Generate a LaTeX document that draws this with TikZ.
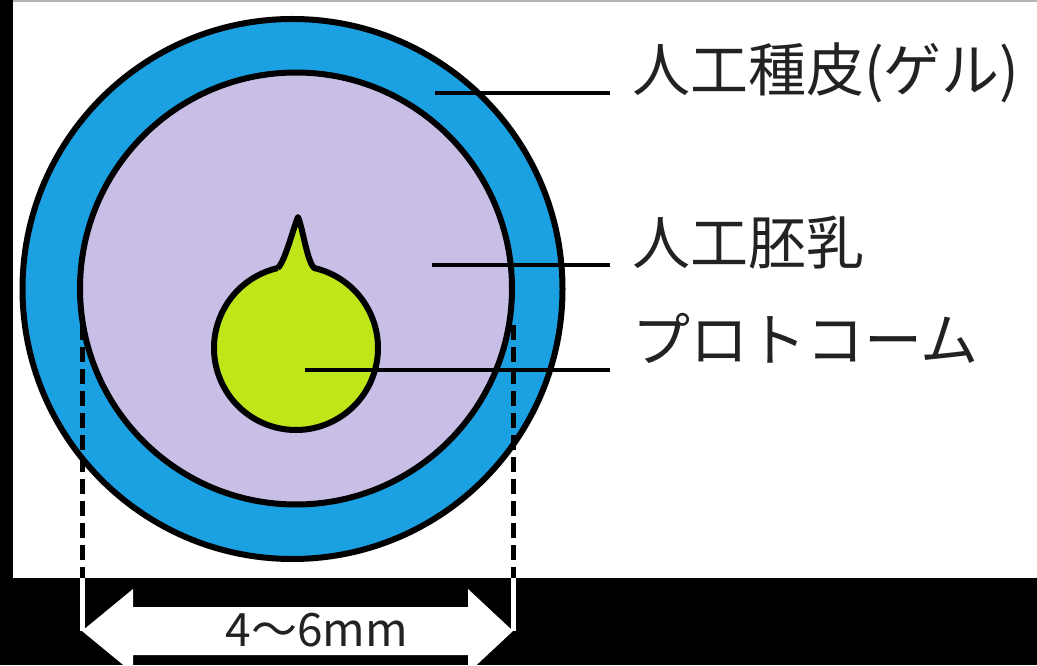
\documentclass[tikz,border=0pt]{standalone}
\usepackage{fontspec}
\newfontfamily\jpfont{Noto Sans CJK JP}
\usetikzlibrary{calc}
\definecolor{gelblue}{RGB}{27,160,226}
\definecolor{endolav}{RGB}{200,190,230}
\definecolor{protogreen}{RGB}{190,230,25}
\definecolor{inktext}{RGB}{34,34,34}
\begin{document}
\begin{tikzpicture}[x=1pt,y=1pt,
  ring/.style={circle, inner sep=0pt, outer sep=0pt, draw=black, line width=6pt},
  leader/.style={line width=3.5pt, black},
  partlabel/.style={font=\jpfont\fontsize{58}{62}\selectfont, anchor=west, inner sep=0pt, text=inktext},
  dimline/.style={line width=5pt, dash pattern=on 15pt off 7pt}]

% page: black frame with white drawing panel
\useasboundingbox (0,0) rectangle (1037,665);
\clip (0,0) rectangle (1037,665);
\fill[black] (0,0) rectangle (1037,665);
\fill[white] (13,87) rectangle (1037,665);
\draw[black!30, line width=2pt] (13,664) -- (1037,664);

% artificial seed: gel coat, endosperm, protocorm
\node[ring, fill=gelblue, minimum size=540pt] (gel) at (292.5,376) {};
\node[ring, fill=endolav, minimum size=432pt] (endo) at (296,376.5) {};
\node[circle, inner sep=0pt, outer sep=0pt, fill=protogreen, minimum size=164pt] (proto) at (296,317) {};

% protocorm tip
\coordinate (tip) at (298,448);
\fill[protogreen] (proto.103) .. controls +(7,5) and +(-5,-12) .. (tip)
  .. controls +(5,-12) and +(-7,5) .. (proto.77) -- (proto.center) -- cycle;
\draw[line width=6pt, line join=round]
  (proto.103) .. controls +(7,5) and +(-5,-12) .. (tip)
  .. controls +(5,-12) and +(-7,5) .. (proto.77)
  arc[start angle=77, end angle=-257, radius=82pt];

% labels and leader lines
\node[partlabel] (l1) at (632,592) {人工種皮(ゲル)};
\node[partlabel] (l2) at (632,422) {人工胚乳};
\node[partlabel] (l3) at (632,327) {プロトコーム};
\coordinate (p1) at (435,572);
\coordinate (p2) at (432,400);
\coordinate (p3) at (305,295);
\draw[leader] (p1) -- ([xshift=-22pt]l1.west |- p1);
\draw[leader] (p2) -- ([xshift=-22pt]l2.west |- p2);
\draw[leader] (p3) -- ([xshift=-22pt]l3.west |- p3);

% diameter marks
\coordinate (dlt) at (82,340);
\coordinate (dlb) at (82,87);
\coordinate (dltip) at (82,34);
\coordinate (drt) at (513,340);
\coordinate (drb) at (513,87);
\coordinate (drtip) at (513,34);
\draw[dimline] (dlt) -- (dlb);
\draw[dimline] (drt) -- (drb);
\draw[white, line width=5pt] (dlb) -- (dltip);
\draw[white, line width=5pt] (drb) -- (drtip);

% double block arrow between the marks
\fill[white] (dltip) -- ($(dltip)+(51,42)$) -- ($(dltip)+(51,24)$)
  -- ($(drtip)+(-45,24)$) -- ($(drtip)+(-45,42)$) -- (drtip)
  -- ($(drtip)+(-45,-42)$) -- ($(drtip)+(-45,-24)$)
  -- ($(dltip)+(51,-24)$) -- ($(dltip)+(51,-42)$) -- cycle;
\node[font=\jpfont\fontsize{46}{50}\selectfont, text=inktext, inner sep=0pt] (size) at (317,35) {4〜6mm};
\end{tikzpicture}
\end{document}
